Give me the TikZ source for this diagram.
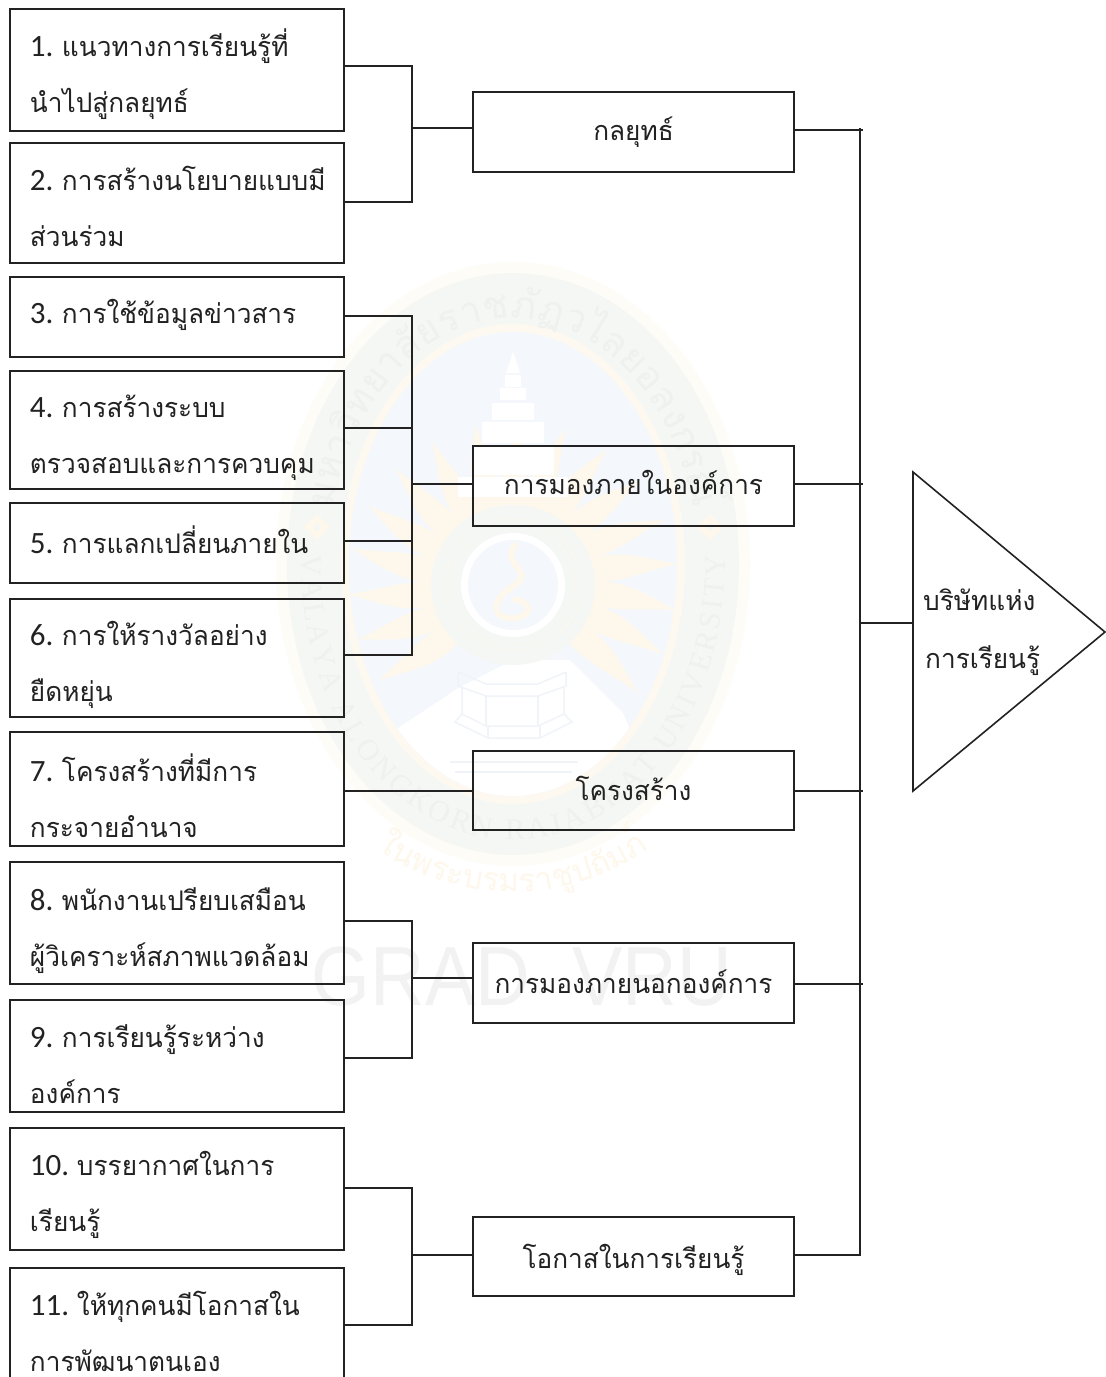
\documentclass[tikz,border=0pt]{standalone}
\usepackage{fontspec}
\usetikzlibrary{calc,decorations.text}
\newfontfamily\thaifont[Script=Thai,FakeStretch=0.97]{Loma}
\newfontfamily\wmthai[Script=Thai]{Loma}
\newfontfamily\wmsans{Liberation Sans}
\newfontfamily\wmserif{Liberation Serif}
\newfontfamily\digitfont{Carlito}
\definecolor{wmcream}{HTML}{FEFCF6}
\definecolor{wmband}{HTML}{F5F7F5}
\definecolor{wmring}{HTML}{FDF9F0}
\definecolor{wmblue}{HTML}{F4F7FB}
\definecolor{wmray}{HTML}{FEF7EC}
\definecolor{wmtext}{HTML}{EFF1EE}
\definecolor{wmline}{HTML}{F0F3F8}
\definecolor{wmgrad}{HTML}{F2F2F2}
\definecolor{ink}{HTML}{222222}
\newcommand\wmlat{\color{wmtext}\wmserif\fontsize{30}{30}\selectfont}
\newcommand\wmtha{\color{wmtext}\wmthai\fontsize{38}{38}\selectfont}
\newcommand\wmthb{\color{wmray}\wmthai\fontsize{32}{32}\selectfont}
\newcommand\itemno[2]{\makebox[#1pt][l]{\digitfont\fontsize{31}{56}\selectfont #2}}
\tikzset{
  x=1pt,y=-1pt,
  wire/.style={draw=ink,line width=1.8pt,line cap=rect},
  boxline/.style={draw=ink,line width=1.3pt},
  itembox/.style 2 args={boxline,anchor=north west,inner xsep=20pt,inner ysep=0pt,outer sep=0pt,
    text width=294pt,align=left,text=ink,text height=#1pt,text depth=#2pt,
    font=\thaifont\fontsize{27}{56}\selectfont},
  groupbox/.style 2 args={boxline,anchor=north west,inner xsep=0pt,inner ysep=0pt,outer sep=0pt,
    text width=321pt,align=center,text=ink,text height=#1pt,text depth=#2pt,
    font=\thaifont\fontsize{27}{56}\selectfont},
  lbl/.style={inner sep=0pt,anchor=base west,text=ink,font=\thaifont\fontsize{27}{56}\selectfont},
  petal/.style={fill=wmray}
}
\begin{document}
\begin{tikzpicture}
\clip (0,0) rectangle (1106,1377);
% ---- watermark
\fill[white] (0,0) rectangle (1106,1377);
\fill[wmcream] (513,564) ellipse [x radius=237pt,y radius=302pt];
\fill[wmband] (513,564) ellipse [x radius=226pt,y radius=291pt];
\fill[wmring] (513,564) ellipse [x radius=172pt,y radius=240pt];
\fill[wmblue] (513,564) ellipse [x radius=164pt,y radius=232pt];
\begin{scope}
  \clip (513,564) ellipse [x radius=164pt,y radius=232pt];
  \fill[white] (380,740) -- (460,687) -- (513,660) -- (570,660) -- (623,713) -- (660,800) -- (380,810) -- cycle;
  \foreach \a in {-128,-112,...,128}{
    \begin{scope}[shift={(513,585)},rotate=\a]
      \fill[petal] (-9,-70) .. controls (-20,-105) and (-6,-130) .. (8,-165) .. controls (9,-130) and (18,-105) .. (9,-70) -- cycle;
    \end{scope}
  }
  \draw[white,line width=3pt] (370,768) .. controls (460,782) and (570,782) .. (660,768);
  \draw[wmline,line width=2pt] (450,762) -- (578,762);
  \draw[wmline,line width=2pt] (455,772) -- (572,772);
\end{scope}
% stupa
\fill[white] (513,352) -- (520,373) -- (506,373) -- cycle;
\fill[white] (505,375) rectangle (521,387);
\fill[white] (500,388) rectangle (526,400);
\fill[white] (492,403) rectangle (534,420);
\fill[white] (482,422) rectangle (544,443);
\fill[white] (472,445) rectangle (554,475);
\fill[white] (458,477) rectangle (568,497);
% medal
\fill[wmband] (513,585) ellipse [x radius=82pt,y radius=80pt];
\draw[wmray,line width=1pt,dash pattern=on 5pt off 3pt] (513,585) ellipse [x radius=68pt,y radius=66pt];
\draw[wmray,line width=1pt,dash pattern=on 3pt off 4pt] (513,585) ellipse [x radius=62pt,y radius=60pt];
\fill[white] (513,585) ellipse [x radius=52pt,y radius=52pt];
\fill[wmblue] (513,585) ellipse [x radius=45pt,y radius=45pt];
\draw[wmray,line width=6pt,line cap=round] (515,545) .. controls (500,565) and (535,570) .. (515,585) .. controls (490,600) and (490,620) .. (515,618) .. controls (535,616) and (530,600) .. (515,600);
% base
\begin{scope}[wmline,line width=1.5pt]
  \draw (458,672) -- (486,684) -- (538,684) -- (566,672);
  \draw (458,672) -- (458,686) -- (486,696) -- (538,696) -- (566,686) -- (566,672);
  \draw (462,686) -- (462,714) -- (486,726) -- (538,726) -- (564,714) -- (564,686);
  \draw (486,696) -- (486,726); \draw (538,696) -- (538,726);
  \draw (462,714) -- (455,722) -- (488,738) -- (540,738) -- (572,722) -- (564,714);
  \draw (488,738) -- (488,726); \draw (540,738) -- (540,726);
\end{scope}
% ornaments on the band
\foreach \cx in {317,710}{
  \fill[wmray] (\cx,514) -- (\cx+13,527) -- (\cx,540) -- (\cx-13,527) -- cycle;
  \fill[wmband] (\cx,523) -- (\cx+4,527) -- (\cx,531) -- (\cx-4,527) -- cycle;
}
% curved watermark lettering
\path[decorate,decoration={text along path,text align={fit to path},
  text={|\wmlat|VALAYA ALONGKORN RAJABHAT UNIVERSITY}}]
  plot[domain=178:362,samples=80] ({513+212*cos(\x)},{564-276*sin(\x)});
\path[decorate,decoration={text along path,text align={fit to path},
  text={|\wmtha|มหาวิทยาลัยราชภัฏวไลยอลงกรณ์}}]
  plot[domain=167:13,samples=80] ({513+185*cos(\x)},{564-246*sin(\x)});
\path[decorate,decoration={text along path,text align=center,
  text={|\wmthb|ในพระบรมราชูปถัมภ์}}]
  plot[domain=222:318,samples=40] ({513+205*cos(\x)},{720-172*sin(\x)});
\node[inner sep=0pt,text=wmgrad,xscale=0.9,font=\wmsans\fontsize{84}{84}\selectfont] (wm) at (522,977) {GRAD\ \ VRU};
% ---- left column
\node[itembox={47}{75}] (b1) at (10,9) {\itemno{32}{1.}แนวทางการเรียนรู้ที่\\นำไปสู่กลยุทธ์};
\node[itembox={47}{73}] (b2) at (10,143) {\itemno{32}{2.}การสร้างนโยบายแบบมี\\ส่วนร่วม};
\node[itembox={46}{34}] (b3) at (10,277) {\itemno{32}{3.}การใช้ข้อมูลข่าวสาร};
\node[itembox={46}{72}] (b4) at (10,371) {\itemno{32}{4.}การสร้างระบบ\\ตรวจสอบและการควบคุม};
\node[itembox={50}{30}] (b5) at (10,503) {\itemno{32}{5.}การแลกเปลี่ยนภายใน};
\node[itembox={46}{72}] (b6) at (10,599) {\itemno{32}{6.}การให้รางวัลอย่าง\\ยืดหยุ่น};
\node[itembox={49}{65}] (b7) at (10,732) {\itemno{32}{7.}โครงสร้างที่มีการ\\กระจายอำนาจ};
\node[itembox={48}{74}] (b8) at (10,862) {\itemno{32}{8.}พนักงานเปรียบเสมือน\\ผู้วิเคราะห์สภาพแวดล้อม};
\node[itembox={47}{65}] (b9) at (10,1000) {\itemno{32}{9.}การเรียนรู้ระหว่าง\\องค์การ};
\node[itembox={47}{75}] (b10) at (10,1128) {\itemno{47}{10.}บรรยากาศในการ\\เรียนรู้};
\node[itembox={47}{130}] (b11) at (10,1268) {\itemno{47}{11.}ให้ทุกคนมีโอกาสใน\\การพัฒนาตนเอง};
% ---- middle column
\node[groupbox={48}{32}] (g1) at (473,92) {กลยุทธ์};
\node[groupbox={48}{32}] (g2) at (473,446) {การมองภายในองค์การ};
\node[groupbox={49}{30}] (g3) at (473,751) {โครงสร้าง};
\node[groupbox={50}{30}] (g4) at (473,943) {การมองภายนอกองค์การ};
\node[groupbox={51}{28}] (g5) at (473,1217) {โอกาสในการเรียนรู้};
% ---- junctions
\coordinate (j1) at (412,128);
\coordinate (j2) at (412,484);
\coordinate (j4) at (412,978);
\coordinate (j5) at (412,1255);
\draw[wire] ($(b1.north east)+(0,57)$) -| (j1);
\draw[wire] ($(b2.north east)+(0,59)$) -| (j1);
\draw[wire] (j1) -- (j1 -| g1.west);
\draw[wire] ($(b3.north east)+(0,39)$) -| (j2);
\draw[wire] ($(b4.north east)+(0,57)$) -| (j2);
\draw[wire] ($(b5.north east)+(0,38)$) -| (j2);
\draw[wire] ($(b6.north east)+(0,56)$) -| (j2);
\draw[wire] (j2) -- (j2 -| g2.west);
\draw[wire] ($(b7.north east)+(0,59)$) -- ($(g3.north west)+(0,40)$);
\draw[wire] ($(b8.north east)+(0,59)$) -| (j4);
\draw[wire] ($(b9.north east)+(0,58)$) -| (j4);
\draw[wire] (j4) -- (j4 -| g4.west);
\draw[wire] ($(b10.north east)+(0,60)$) -| (j5);
\draw[wire] ($(b11.north east)+(0,57)$) -| (j5);
\draw[wire] (j5) -- (j5 -| g5.west);
% ---- right bus
\coordinate (r1) at (862,130);
\coordinate (r2) at (862,484);
\coordinate (r3) at (862,791);
\coordinate (r4) at (862,984);
\coordinate (r5) at (860,1255);
\coordinate (rtop) at (860,129);
\coordinate (rmid) at (860,623);
\draw[wire] (rtop) -- (r5);
\draw[wire] (r1 -| g1.east) -- (r1);
\draw[wire] (r2 -| g2.east) -- (r2);
\draw[wire] (r3 -| g3.east) -- (r3);
\draw[wire] (r4 -| g4.east) -- (r4);
\draw[wire] (r5 -| g5.east) -- (r5);
% ---- triangle
\coordinate (t1) at (913,472);
\coordinate (t2) at (1105,632);
\coordinate (t3) at (913,791);
\draw[boxline,line width=1.6pt,line join=miter] (t1) -- (t2) -- (t3) -- cycle;
\draw[wire] (rmid) -- (rmid -| t1);
\node[lbl,align=left] (t) at (923,610) {บริษัทแห่ง};
\node[lbl,align=left] (t') at (925,668) {การเรียนรู้};
\end{tikzpicture}
\end{document}
